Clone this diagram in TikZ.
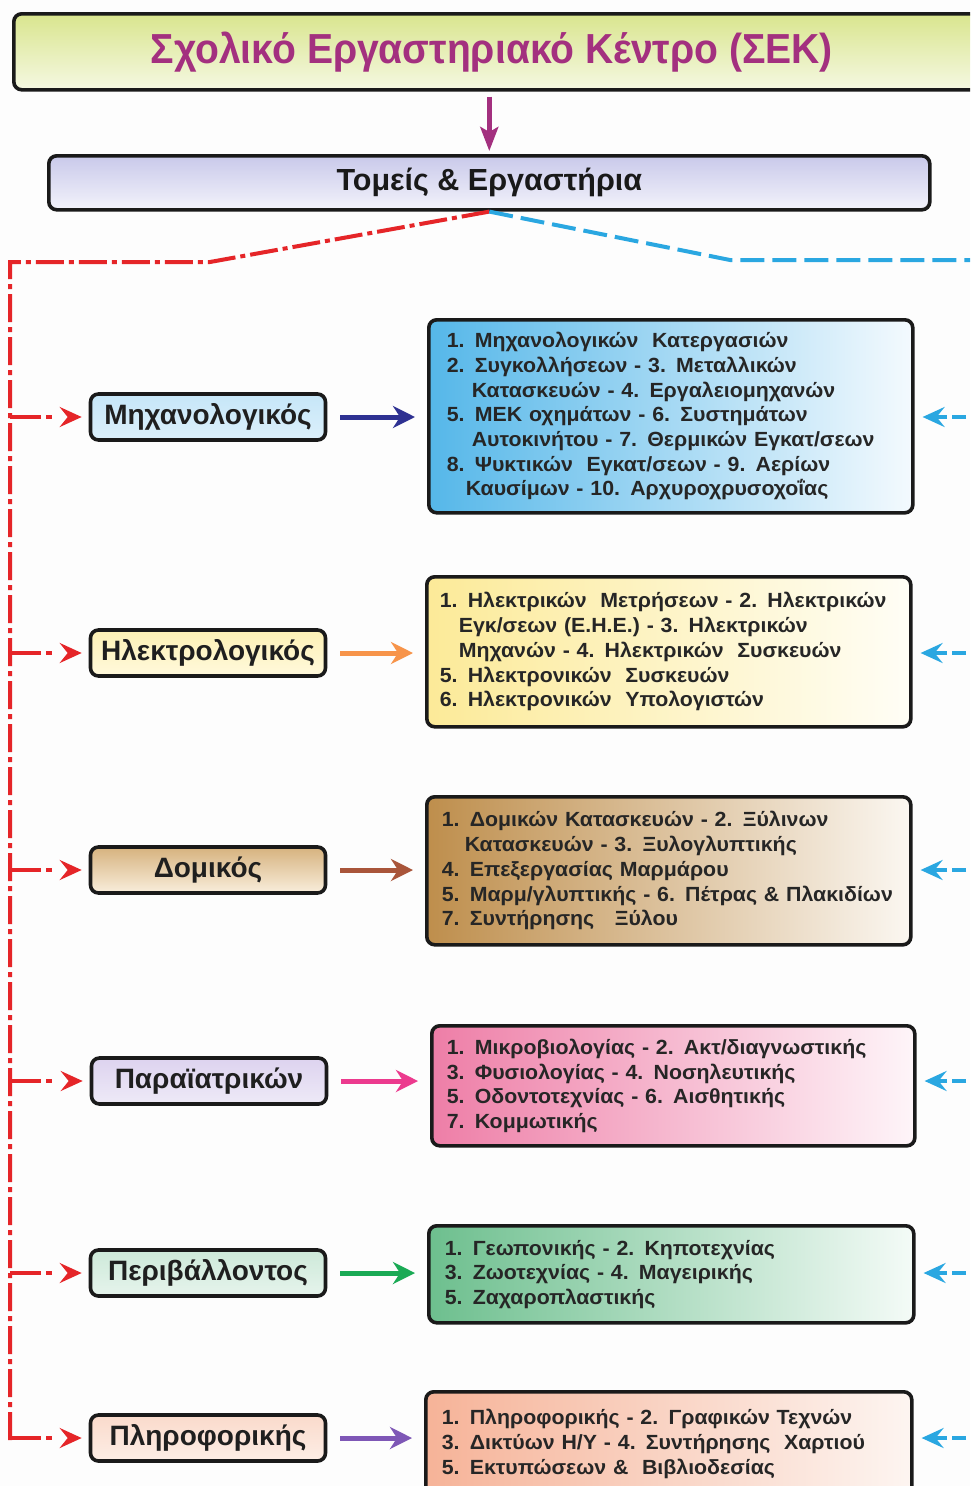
\documentclass[tikz,border=0pt]{standalone}
\usepackage{fontspec}
\setmainfont{Liberation Sans}
\newfontfamily\titlefont[FakeStretch=0.93]{Liberation Sans}
\newfontfamily\labfont[FakeStretch=1.04]{Liberation Sans}
\usetikzlibrary{arrows.meta}
\definecolor{titlemag}{HTML}{A3307F}
\definecolor{redl}{HTML}{E52528}
\definecolor{bluel}{HTML}{2AA7E1}
\definecolor{frame}{HTML}{1A1A1A}
\definecolor{bgc}{HTML}{FDFDFD}
\definecolor{cA}{HTML}{2E3192}
\definecolor{cB}{HTML}{F7944A}
\definecolor{cC}{HTML}{A9553A}
\definecolor{cD}{HTML}{EC3A8E}
\definecolor{cE}{HTML}{1AAA55}
\definecolor{cF}{HTML}{7E57B6}
\definecolor{tTop}{HTML}{D9E58E}
\definecolor{tBot}{HTML}{F5F8E2}
\definecolor{hTop}{HTML}{C9C9EA}
\definecolor{hBot}{HTML}{F3F3FB}
\definecolor{m1t}{HTML}{C6E6F8}\definecolor{m1b}{HTML}{DCF0FB}
\definecolor{m2t}{HTML}{FDF1B5}\definecolor{m2b}{HTML}{FFF9DC}
\definecolor{m3t}{HTML}{D6B27E}\definecolor{m3b}{HTML}{F9EEDC}
\definecolor{m4t}{HTML}{DDD3EF}\definecolor{m4b}{HTML}{EEEAF7}
\definecolor{m5t}{HTML}{CDE9D9}\definecolor{m5b}{HTML}{E6F4EC}
\definecolor{m6t}{HTML}{FADACB}\definecolor{m6b}{HTML}{FDEEE6}
\definecolor{b1l}{HTML}{55B7E9}\definecolor{b1r}{HTML}{F4FAFE}
\definecolor{b2l}{HTML}{FCEA98}\definecolor{b2r}{HTML}{FFFEF6}
\definecolor{b3l}{HTML}{BE8E4C}\definecolor{b3r}{HTML}{FBF7F1}
\definecolor{b4l}{HTML}{EE7EA7}\definecolor{b4r}{HTML}{FEF5F9}
\definecolor{b5l}{HTML}{6DBF8E}\definecolor{b5r}{HTML}{F4FBF7}
\definecolor{b6l}{HTML}{F6B398}\definecolor{b6r}{HTML}{FDF5F1}
\begin{document}
\begin{tikzpicture}[x=1pt,y=-1pt,
  box/.style={draw=frame, line width=3.6pt, rounded corners=8pt},
  titlebox/.style={box, anchor=north west, top color=tTop, bottom color=tBot,
     font=\titlefont\bfseries\fontsize{42}{48}\selectfont, text=titlemag},
  hdrbox/.style={box, anchor=north west, top color=hTop, bottom color=hBot,
     font=\fontsize{30.5}{34}\selectfont\bfseries, text=black!90},
  cat/.style={box, minimum width=235pt, minimum height=46pt, inner sep=0pt,
     font=\fontsize{28}{32}\selectfont\bfseries, text=black!88},
  lab/.style={box, anchor=north west, align=left, inner ysep=0pt,
     font=\labfont\bfseries\fontsize{20.5}{24.7}\selectfont, text=black!85},
  redline/.style={redl, line width=4pt, dash pattern=on 28pt off 5pt on 5pt off 5pt},
  blueline/.style={bluel, line width=4pt, dash pattern=on 24pt off 8pt},
  redarrow/.style={redl, line width=4pt, dash pattern=on 31pt off 5pt on 6pt off 30pt,
     -{Stealth[length=22pt,width=20pt,inset=8pt]}, shorten >=7pt},
  midarrow/.style={line width=5pt, -{Stealth[length=22pt,width=22pt,inset=7pt]},
     shorten <=13pt, shorten >=12pt},
  bluearrow/.style={bluel, line width=4pt, dash pattern=on 14pt off 5pt,
     -{Stealth[length=22pt,width=20pt,inset=8pt]}, shorten >=8pt}
]
\useasboundingbox (0,0) rectangle (970,1486);
\clip (0,0) rectangle (970,1486);
\fill[bgc] (0,0) rectangle (970,1486);

% title and header
\node[titlebox, minimum width=966pt, minimum height=76pt] (title) at (12,12)
  {Σχολικό Εργαστηριακό Κέντρο (ΣΕΚ)\hspace*{10pt}};
\node[hdrbox, minimum width=881pt, minimum height=54pt] (hdr) at (47,154)
  {Τομείς \& Εργαστήρια};
\draw[titlemag, line width=4.5pt, -{Stealth[length=24pt,width=18pt,inset=5pt]}, shorten <=5pt, shorten >=3pt]
  (title.south -| hdr.north) -- (hdr.north);

% category boxes
\node[cat, top color=m1t, bottom color=m1b] (m1) at (208,417) {Μηχανολογικός};
\node[cat, top color=m2t, bottom color=m2b] (m2) at (208,653) {Ηλεκτρολογικός};
\node[cat, top color=m3t, bottom color=m3b] (m3) at (208,870) {Δομικός};
\node[cat, top color=m4t, bottom color=m4b] (m4) at (209,1081) {Παραϊατρικών};
\node[cat, top color=m5t, bottom color=m5b] (m5) at (208,1273) {Περιβάλλοντος};
\node[cat, top color=m6t, bottom color=m6b] (m6) at (208,1438) {Πληροφορικής};

% lab boxes
\node[lab, left color=b1l, right color=b1r, minimum height=193pt,
  text width=448pt, inner xsep=18pt] (b1) at (427,318)
  {1. Μηχανολογικών\ \ Κατεργασιών\\
   2. Συγκολλήσεων - 3. Μεταλλικών\\
   \hspace*{25pt}Κατασκευών - 4. Εργαλειομηχανών\\
   5. ΜΕΚ οχημάτων - 6. Συστημάτων\\
   \hspace*{25pt}Αυτοκινήτου - 7. Θερμικών Εγκατ/σεων\\
   8. Ψυκτικών\ \ Εγκατ/σεων - 9. Αερίων\\
   \hspace*{19pt}Καυσίμων - 10. Αρχυροχρυσοχοΐας};
\node[lab, left color=b2l, right color=b2r, minimum height=150pt,
  text width=458pt, inner xsep=13pt] (b2) at (425,575)
  {1. Ηλεκτρικών\ \ Μετρήσεων - 2. Ηλεκτρικών\\
   \hspace*{19pt}Εγκ/σεων (Ε.Η.Ε.) - 3. Ηλεκτρικών\\
   \hspace*{19pt}Μηχανών - 4. Ηλεκτρικών\ \ Συσκευών\\
   5. Ηλεκτρονικών\ \ Συσκευών\\
   6. Ηλεκτρονικών\ \ Υπολογιστών};
\node[lab, left color=b3l, right color=b3r, minimum height=148pt,
  text width=454pt, inner xsep=15pt] (b3) at (425,795)
  {1. Δομικών Κατασκευών - 2. Ξύλινων\\
   \hspace*{23pt}Κατασκευών - 3. Ξυλογλυπτικής\\
   4. Επεξεργασίας Μαρμάρου\\
   5. Μαρμ/γλυπτικής - 6. Πέτρας \& Πλακιδίων\\
   7. Συντήρησης\ \ \ Ξύλου};
\node[lab, left color=b4l, right color=b4r, minimum height=120pt,
  text width=453pt, inner xsep=15pt] (b4) at (430,1024)
  {1. Μικροβιολογίας - 2. Ακτ/διαγνωστικής\\
   3. Φυσιολογίας - 4. Νοσηλευτικής\\
   5. Οδοντοτεχνίας - 6. Αισθητικής\\
   7. Κομμωτικής};
\node[lab, left color=b5l, right color=b5r, minimum height=97pt,
  text width=453pt, inner xsep=16pt] (b5) at (427,1224)
  {1. Γεωπονικής - 2. Κηποτεχνίας\\
   3. Ζωοτεχνίας - 4. Μαγειρικής\\
   5. Ζαχαροπλαστικής};
\node[lab, left color=b6l, right color=b6r, minimum height=104pt,
  text width=454pt, inner xsep=16pt] (b6) at (424,1390)
  {1. Πληροφορικής - 2. Γραφικών Τεχνών\\
   3. Δικτύων Η/Υ - 4. Συντήρησης\ \ Χαρτιού\\
   5. Εκτυπώσεων \&\ \ Βιβλιοδεσίας};

% distribution lines
\coordinate (rbend) at (210,262);
\coordinate (lcorner) at (10,262);
\coordinate (lend) at (10,1440);
\coordinate (bbend) at (730,260);
\coordinate (bend2) at (985,260);
\coordinate (redge) at (985,0);
\draw[redline] (hdr.south) -- (rbend) -- (lcorner) -- (lend);
\draw[blueline] (hdr.south) -- (bbend) -- (bend2);

% arrows
\foreach \i/\c in {1/cA,2/cB,3/cC,4/cD,5/cE,6/cF}{
  \draw[redarrow] (lcorner |- m\i.west) -- (m\i.west);
  \draw[midarrow, \c] (m\i.east) -- (m\i.east -| b\i.west);
  \draw[bluearrow] (redge |- m\i.east) -- (m\i.east -| b\i.east);
}
\end{tikzpicture}
\end{document}
